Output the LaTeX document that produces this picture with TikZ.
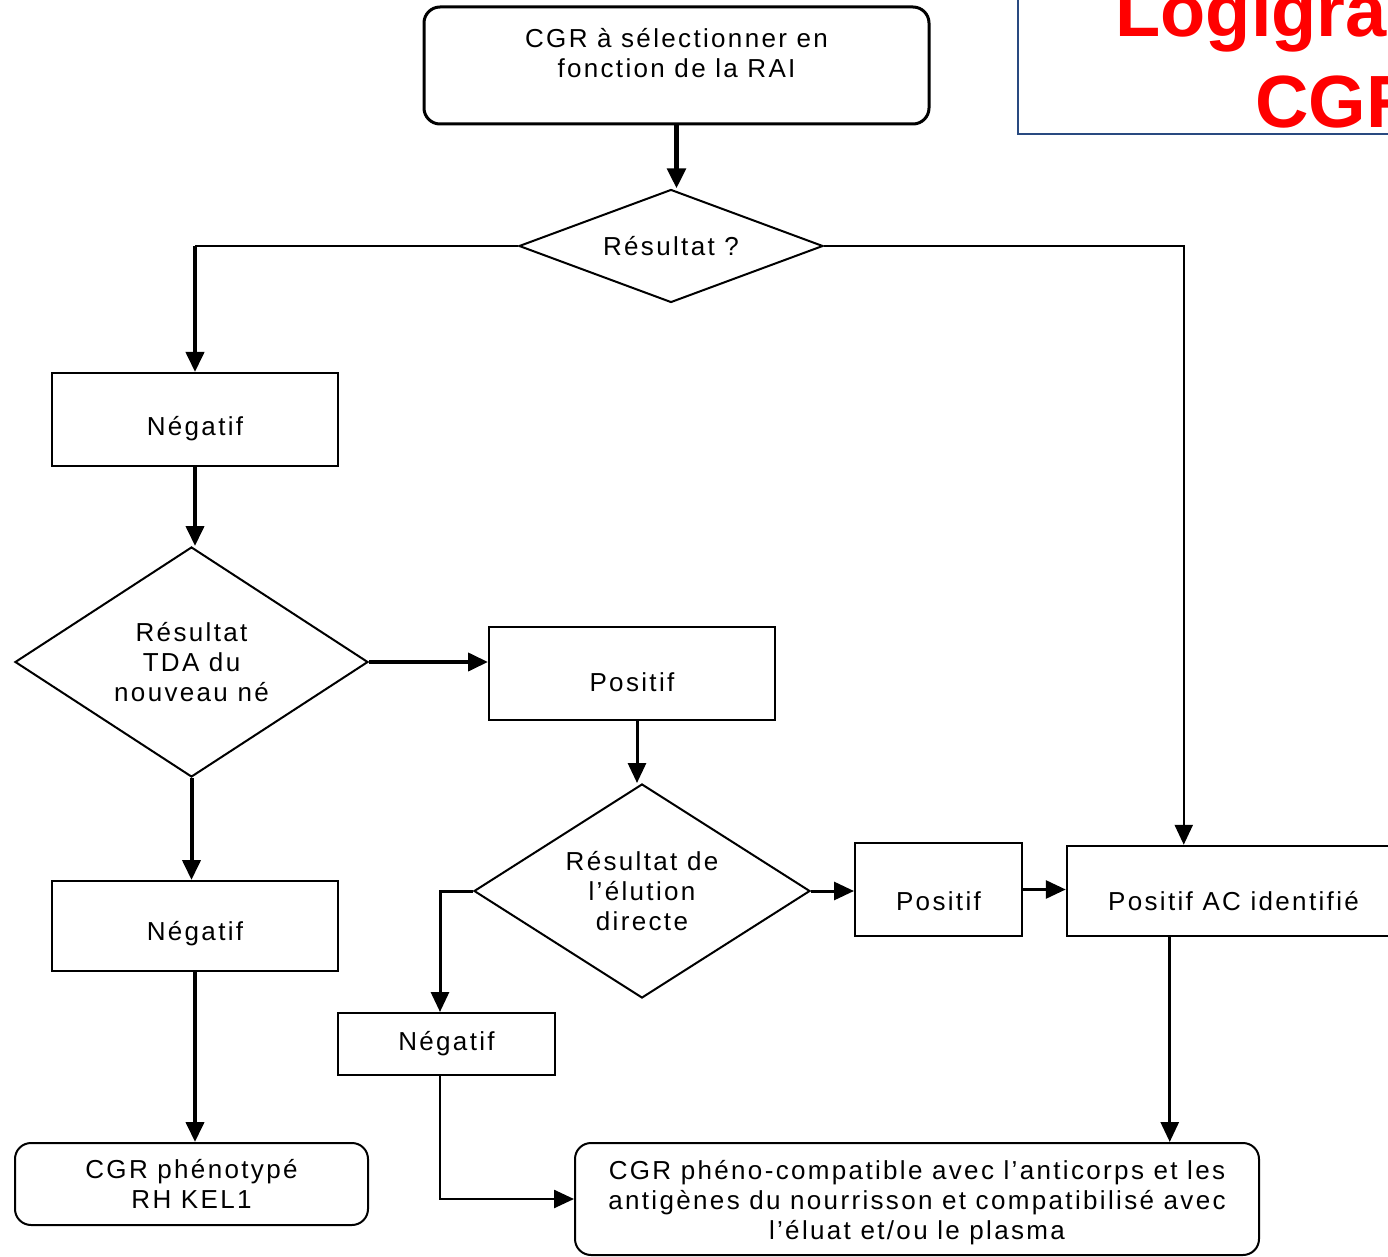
\documentclass[tikz,border=0pt]{standalone}
\usepackage{fontspec}
\newfontfamily\flowfont[LetterSpace=9]{Liberation Sans}
\newfontfamily\titlefont{Liberation Sans}
\usepackage{tikz}
\usetikzlibrary{shapes.geometric,calc,arrows.meta,positioning}
\definecolor{titleblue}{RGB}{41,74,128}
\definecolor{titlered}{RGB}{255,0,0}
\tikzstyle{arrow} = [draw, -{Triangle[length=10pt,width=9pt]}]
\tikzstyle{txt} = [font=\flowfont\fontsize{13}{15}\selectfont, align=center, inner sep=0pt]
\tikzstyle{box} = [draw, line width=1pt, rectangle, inner sep=0pt]
\tikzstyle{roundbox} = [box, rounded corners=8pt]
\tikzstyle{decision} = [draw, line width=1pt, diamond, inner sep=0pt]
\tikzstyle{titletxt} = [font=\titlefont\bfseries\fontsize{37}{43}\selectfont, text=titlered, anchor=base west, inner sep=0pt]

\begin{document}
\begin{tikzpicture}[x=0.5pt,y=-0.5pt]
    \useasboundingbox (0,0) rectangle (1388,1257);
    \clip (0,0) rectangle (1388,1257);
    % title, cut by the page edge
    \node[draw=titleblue, line width=1pt, minimum width=200pt, minimum height=90pt, anchor=south west] (titre) at (1017,135) {};
    \node[titletxt] (titreA) at (1115,37) {Logigra};
    \node[titletxt] (titreB) at (1255,128) {CGR};

    \node[roundbox, line width=1.5pt, minimum width=252.5pt, minimum height=58.5pt, label={[txt,yshift=6pt]center:CGR à sélectionner en\\fonction de la RAI}] (rai) at (676.5,65.5) {};
    \node[decision, aspect=2.7, minimum width=152pt, minimum height=56.5pt, txt] (res) at (671,246) {Résultat ?};
    \node[box, minimum width=143pt, minimum height=46.5pt, label={[txt,yshift=-4.75pt]center:Négatif}] (neg1) at (195,419.5) {};
    \node[decision, aspect=1.53, minimum width=176.5pt, minimum height=115pt, txt] (tda) at (191.5,662) {Résultat\\TDA du\\nouveau né};
    \node[box, minimum width=143pt, minimum height=46.5pt, label={[txt,yshift=-4.25pt]center:Positif}] (pos1) at (632,673.5) {};
    \node[decision, aspect=1.57, minimum width=168pt, minimum height=107pt, txt] (elu) at (642,891) {Résultat de\\l’élution\\directe};
    \node[box, minimum width=83.5pt, minimum height=46.5pt, label={[txt,yshift=-5.75pt]center:Positif}] (pos2) at (938.5,889.5) {};
    \node[box, line width=1.25pt, minimum width=166.5pt, minimum height=45pt, label={[txt,yshift=-5pt]center:Positif AC identifié}] (ac) at (1233.5,891) {};
    \node[box, minimum width=143pt, minimum height=45pt, label={[txt,yshift=-4pt]center:Négatif}] (neg2) at (195,926) {};
    \node[box, minimum width=108.5pt, minimum height=31pt, txt] (neg3) at (446.5,1044) {Négatif};
    \node[roundbox, minimum width=176.5pt, minimum height=41pt, txt] (kel) at (191.5,1184) {CGR phénotypé\\RH KEL1};
    \node[roundbox, minimum width=342pt, minimum height=56pt, label={[txt,yshift=-2pt]center:CGR phéno-compatible avec l’anticorps et les\\antigènes du nourrisson et compatibilisé avec\\l’éluat et/ou le plasma}] (plasma) at (917,1199) {};

    \draw[arrow, line width=2.5pt] (rai.south) -- (rai.south |- res.north);
    \draw[line width=1pt] (res.west) -- (res.west -| neg1.north);
    \draw[arrow, line width=2pt] (res.west -| neg1.north) -- (neg1.north);
    \draw[arrow, line width=1.25pt] (res.east) -| ([xshift=59pt]ac.north west);
    \draw[arrow, line width=2pt] (neg1.south) -- (neg1.south |- tda.north);
    \draw[arrow, line width=2pt] (tda.east) -- (tda.east -| pos1.west);
    \draw[arrow, line width=2pt] (tda.south) -- (tda.south |- neg2.north);
    \draw[arrow, line width=2pt] (neg2.south) -- (neg2.south |- kel.north);
    \draw[arrow, line width=1.5pt] ([xshift=2.5pt]pos1.south) -- ([xshift=2.5pt]pos1.south |- elu.north);
    \draw[arrow, line width=1.5pt] (elu.east) -- (elu.east -| pos2.west);
    \draw[arrow, line width=1.5pt] (pos2.east) -- (pos2.east -| ac.west);
    \draw[arrow, line width=1.5pt] ([xshift=52pt]ac.south west) -- ([xshift=52pt]ac.south west |- plasma.north);
    \draw[arrow, line width=1.5pt] (elu.west) -| ([xshift=-3.25pt]neg3.north);
    \draw[arrow, line width=1.25pt] ([xshift=-3.25pt]neg3.south) |- (plasma.west);
\end{tikzpicture}
\end{document}
